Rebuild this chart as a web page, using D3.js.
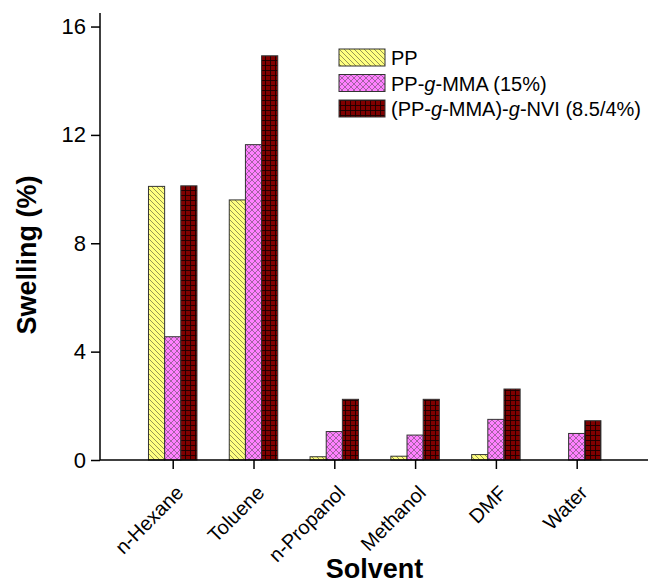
<!DOCTYPE html>
<html>
<head>
<meta charset="utf-8">
<script src="https://cdn.jsdelivr.net/npm/d3@7"></script>
<style>
  body { margin: 0; background: #fff; }
  svg text { font-family: Arial, "Liberation Sans", sans-serif; fill: #000; }
</style>
</head>
<body>
<svg id="chart" width="648" height="583"></svg>
<script>
// Data
var solvents = ['n-Hexane', 'Toluene', 'n-Propanol', 'Methanol', 'DMF', 'Water'];
var ppValues = [10.1, 9.6, 0.12, 0.14, 0.2, 0];
var ppMmaValues = [4.55, 11.64, 1.05, 0.92, 1.5, 0.98];
var ppNviValues = [10.12, 14.92, 2.24, 2.24, 2.62, 1.45];
var yTicks = [0, 4, 8, 12, 16];

var series = [
    { key: 'pp', values: ppValues, fill: 'url(#hatchYellow)' },
    { key: 'mma', values: ppMmaValues, fill: 'url(#hatchPink)' },
    { key: 'nvi', values: ppNviValues, fill: 'url(#hatchRed)' }
];

var svg = d3.select('#chart');

// Patterns
var defs = svg.append('defs');

var pYellow = defs.append('pattern').attr('id', 'hatchYellow')
    .attr('patternUnits', 'userSpaceOnUse').attr('width', 5).attr('height', 5);
pYellow.append('rect').attr('width', 5).attr('height', 5).attr('fill', '#ffff80');
pYellow.append('path').attr('d', 'M0,0L5,5M-1,4L1,6M4,-1L6,1')
    .attr('stroke', '#8a8a50').attr('stroke-width', 0.9);

var pPink = defs.append('pattern').attr('id', 'hatchPink')
    .attr('patternUnits', 'userSpaceOnUse').attr('width', 6).attr('height', 6);
pPink.append('rect').attr('width', 6).attr('height', 6).attr('fill', '#ff80ff');
pPink.append('path').attr('d', 'M0,0L6,6M6,0L0,6')
    .attr('stroke', '#8a5a8a').attr('stroke-width', 0.8);

var pRed = defs.append('pattern').attr('id', 'hatchRed')
    .attr('patternUnits', 'userSpaceOnUse').attr('width', 5).attr('height', 5);
pRed.append('rect').attr('width', 5).attr('height', 5).attr('fill', '#800000');
pRed.append('path').attr('d', 'M0,0.5H5M0.5,0V5')
    .attr('stroke', '#1a0000').attr('stroke-width', 0.9);

// Scales
var x = d3.scaleLinear().domain([0.1, 6.9]).range([100, 649.4]);
var y = d3.scaleLinear().domain([0, 16.5]).range([460, 13]);
var barW = x(0.2) - x(0);

// Bars
series.forEach(function(s, si) {
    svg.append('g').selectAll('rect')
        .data(s.values)
        .enter().append('rect')
        .attr('x', function(d, i) { return x(i + 1) + (si - 1.5) * barW; })
        .attr('y', function(d) { return y(d); })
        .attr('width', barW)
        .attr('height', function(d) { return y(0) - y(d); })
        .attr('fill', s.fill)
        .attr('stroke', '#333')
        .attr('stroke-width', function(d) { return d > 0 ? 1 : 0; });
});

// Y axis
var yAxis = svg.append('g').attr('transform', 'translate(100,0)')
    .call(d3.axisLeft(y).tickValues(yTicks).tickSize(9).tickPadding(5));
yAxis.select('.domain').attr('d', 'M0,' + y(16.5) + 'V' + y(0)).attr('stroke', '#000').attr('stroke-width', 1.5);
yAxis.selectAll('.tick line').attr('stroke', '#000').attr('stroke-width', 1.5);
yAxis.selectAll('.tick text').style('font-size', '22px')
    .style('font-family', 'Arial, "Liberation Sans", sans-serif');

// X axis
var xAxis = svg.append('g').attr('transform', 'translate(0,' + y(0) + ')')
    .call(d3.axisBottom(x).tickValues([1, 2, 3, 4, 5, 6]).tickSize(9).tickFormat(''));
xAxis.select('.domain').attr('d', 'M100,0H648').attr('stroke', '#000').attr('stroke-width', 1.5);
xAxis.selectAll('.tick line').attr('stroke', '#000').attr('stroke-width', 1.5);

svg.append('g').selectAll('text')
    .data(solvents)
    .enter().append('text')
    .attr('transform', function(d, i) { return 'translate(' + (x(i + 1) + 12) + ',494) rotate(-45)'; })
    .attr('text-anchor', 'end')
    .style('font-size', '20px')
    .text(function(d) { return d; });

// Axis titles
svg.append('text')
    .attr('transform', 'translate(36,255) rotate(-90)')
    .attr('text-anchor', 'middle')
    .style('font-size', '27px').style('font-weight', 'bold')
    .text('Swelling (%)');

svg.append('text')
    .attr('x', 374.5).attr('y', 578)
    .attr('text-anchor', 'middle')
    .style('font-size', '27px').style('font-weight', 'bold')
    .text('Solvent');

// Legend
var legendRows = [
    { fill: 'url(#hatchYellow)', parts: [['PP', false]] },
    { fill: 'url(#hatchPink)', parts: [['PP-', false], ['g', true], ['-MMA (15%)', false]] },
    { fill: 'url(#hatchRed)', parts: [['(PP-', false], ['g', true], ['-MMA)-', false], ['g', true], ['-NVI (8.5/4%)', false]] }
];

var legend = svg.append('g');
legendRows.forEach(function(r, i) {
    var top = 49 + i * 25.5;
    legend.append('rect')
        .attr('x', 339).attr('y', top)
        .attr('width', 46).attr('height', 17)
        .attr('fill', r.fill).attr('stroke', '#333').attr('stroke-width', 1);
    var t = legend.append('text')
        .attr('x', 391).attr('y', top + 16)
        .style('font-size', '20px');
    r.parts.forEach(function(p) {
        t.append('tspan').style('font-style', p[1] ? 'italic' : 'normal').text(p[0]);
    });
});
</script>
</body>
</html>
